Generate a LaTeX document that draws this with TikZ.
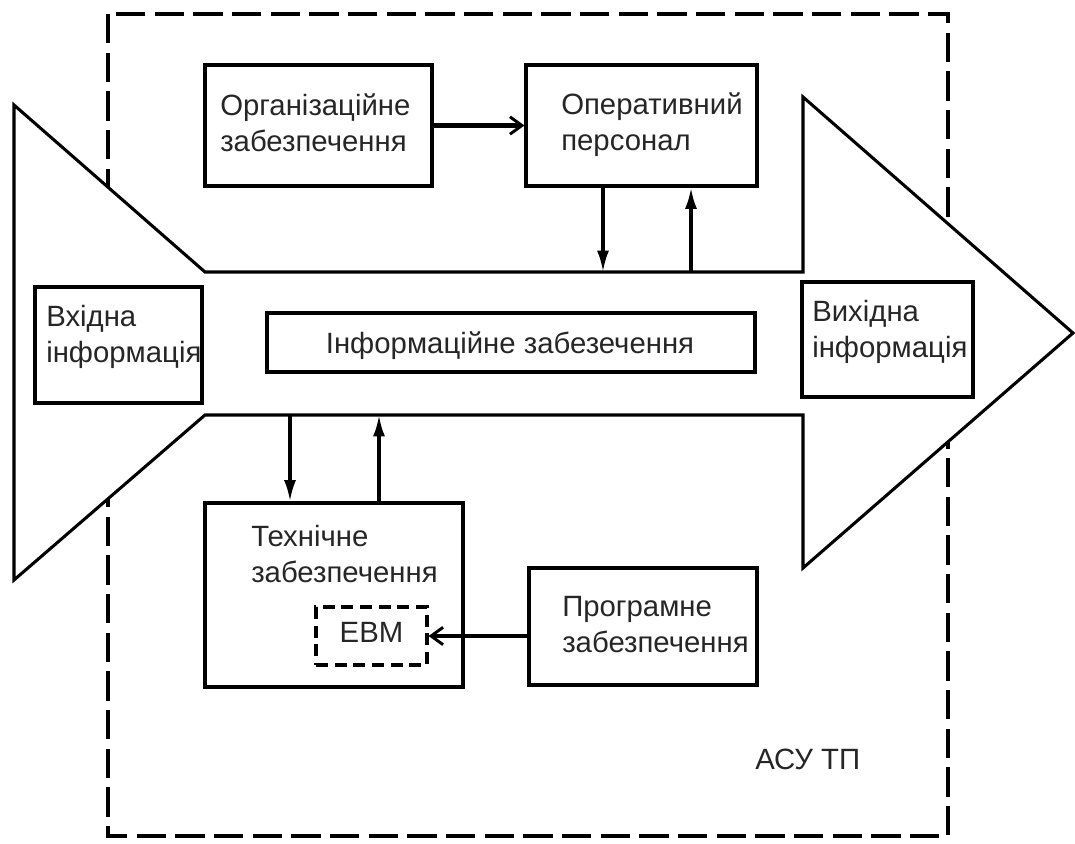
\documentclass[tikz,border=0pt]{standalone}
\usepackage{fontspec}
\setmainfont{Liberation Sans}
\usetikzlibrary{arrows.meta,fit}
\begin{document}
\begin{tikzpicture}[x=0.75pt,y=-0.75pt,
  box/.style={draw, line width=2.3pt, inner sep=0pt},
  ebmbox/.style={draw, line width=2.3pt, inner sep=0pt, dash pattern=on 9pt off 5pt},
  txt/.style={align=left, inner sep=0pt, text=black!85, font=\fontsize{22}{26.3}\selectfont},
  flow/.style={draw, line width=2.3pt, fill=white, line join=miter},
  conn/.style={line width=2.4pt, -{Latex[length=16pt,width=9pt]}},
  barb/.style={line width=3.2pt, -{Straight Barb[length=9pt,width=13pt,line width=2.2pt]}}
]
\useasboundingbox (0,0) rectangle (1075,843);
\draw[line width=2.6pt, dash pattern=on 22pt off 7pt] (108,14) rectangle (948,836);
\draw[flow] (14,105) -- (205,272) -- (803,272) -- (803,97) -- (1073,333) -- (803,568) -- (803,415) -- (205,415) -- (14,580) -- cycle;
\coordinate (u1) at (603,272);
\coordinate (u2) at (691,272);
\coordinate (l1) at (290,415);
\coordinate (l2) at (379,415);
\node[box, fit={(205,65) (432,186)}] (org) {};
\node[box, fit={(526,65) (757,186)}] (oper) {};
\node[box, fit={(35,287) (202,403)}] (inp) {};
\node[box, fit={(802,282) (973,397)}] (outp) {};
\node[box, fit={(267,313) (755,372)}] (info) {};
\node[box, fit={(205,503) (463,687)}] (tech) {};
\node[box, fit={(529,568) (757,685)}] (prog) {};
\node[ebmbox, fit={(316,607) (427,665)}] (ebm) {};
\node[txt, anchor=base west] (orgt) at (220,151) {Організаційне\\забезпечення};
\node[txt, anchor=base west] (opert) at (561,150) {Оперативний\\персонал};
\node[txt, anchor=base west] (inpt) at (46,362) {Вхідна\\інформація};
\node[txt, anchor=base west] (outpt) at (812,357) {Вихідна\\інформація};
\node[txt, anchor=base] (infot) at (510,353) {Інформаційне забезечення};
\node[txt, anchor=base west] (techt) at (251,582) {Технічне\\забезпечення};
\node[txt, anchor=base west] (progt) at (562,652) {Програмне\\забезпечення};
\node[txt, anchor=base] (ebmt) at (371.5,642) {ЕВМ};
\node[txt, anchor=base west] (asut) at (755,769) {АСУ ТП};
\draw[barb] (org.east) -- (oper.west);
\draw[conn] (oper.south -| u1) -- (u1);
\draw[conn] (u2) -- (oper.south -| u2);
\draw[conn] (l1) -- (tech.north -| l1);
\draw[conn] (tech.north -| l2) -- (l2);
\draw[barb] (prog.west |- ebm.east) -- (ebm.east);
\end{tikzpicture}
\end{document}
